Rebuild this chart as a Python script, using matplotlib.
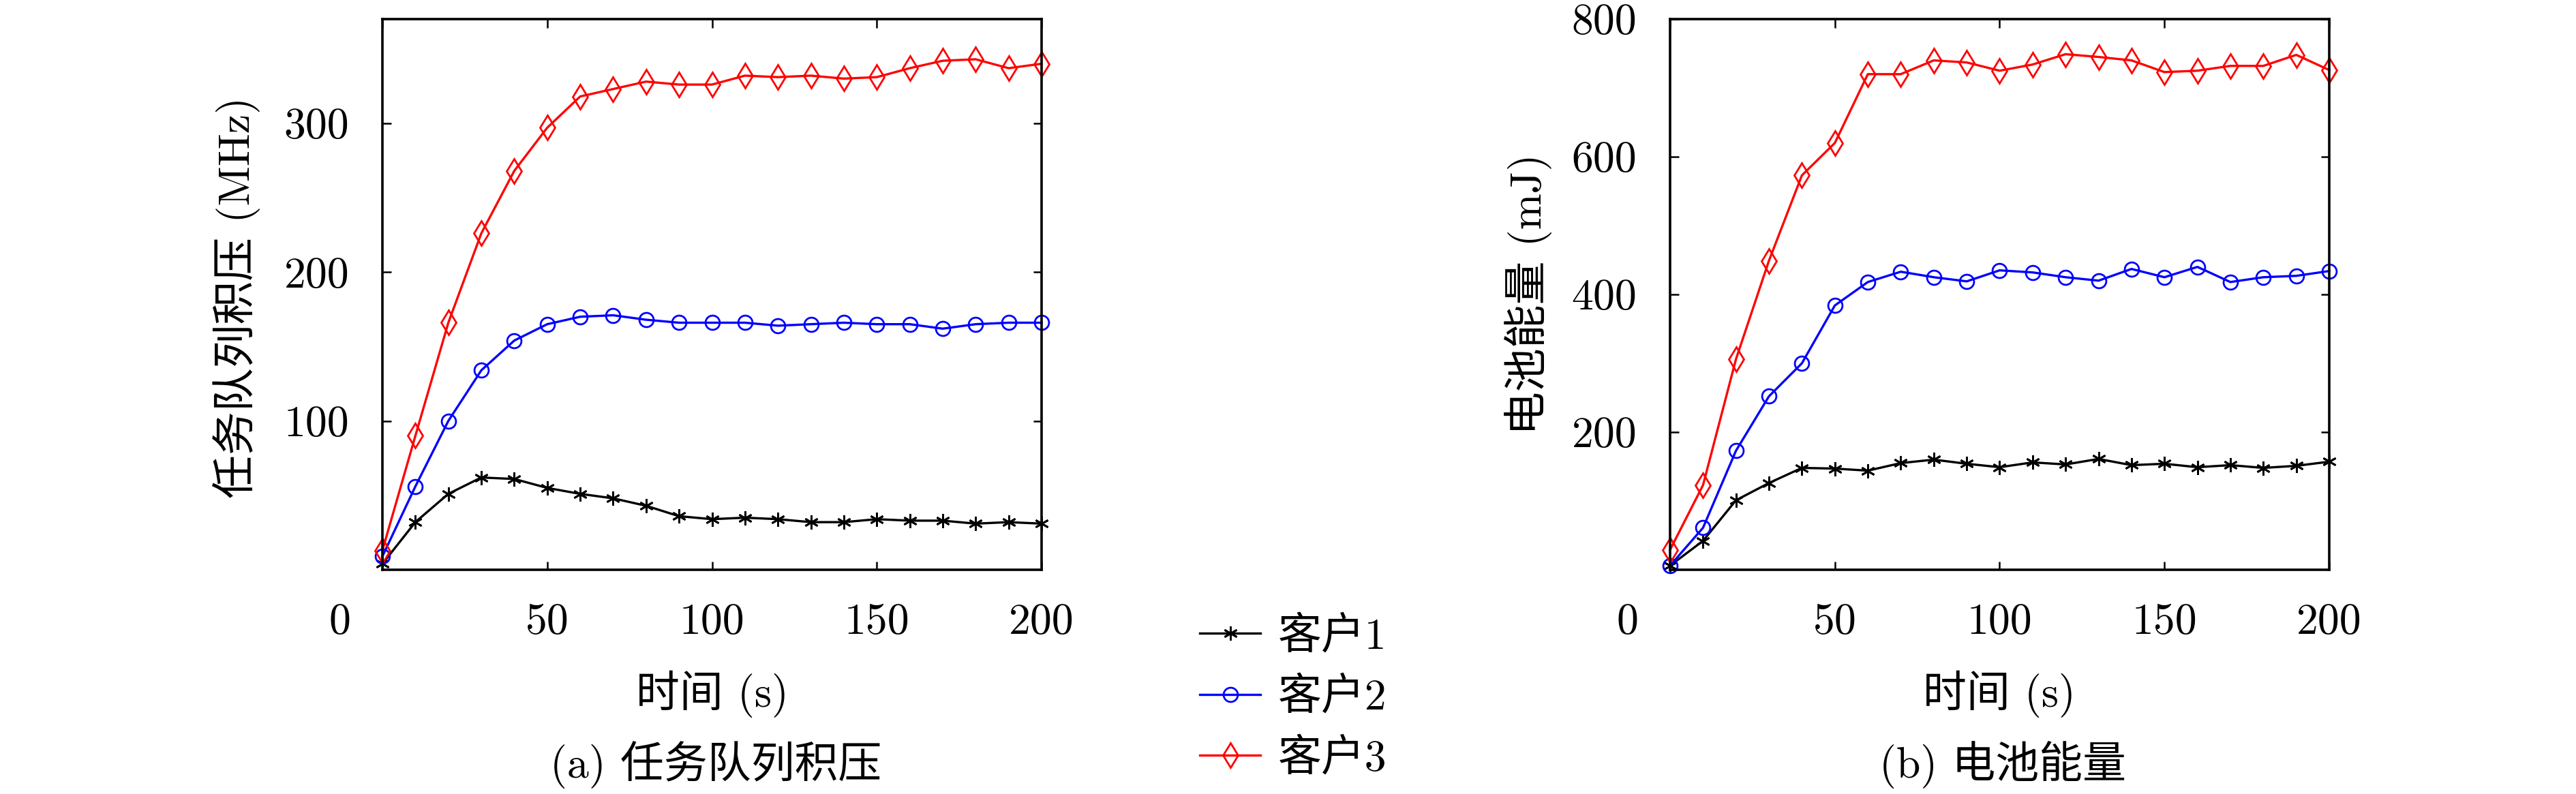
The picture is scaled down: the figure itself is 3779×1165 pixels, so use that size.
import matplotlib
matplotlib.use('Agg')
import matplotlib.pyplot as plt
from matplotlib.transforms import ScaledTranslation

plt.rcParams['font.family'] = ['cmr10', 'Noto Sans CJK SC']
plt.rcParams['axes.unicode_minus'] = False

time_s = [0, 10, 20, 30, 40, 50, 60, 70, 80, 90, 100,
          110, 120, 130, 140, 150, 160, 170, 180, 190, 200]

# (a) queue backlog, MHz
queue_c1 = [4, 32, 51, 62, 61, 55, 51, 48, 43, 36, 34,
            35, 34, 32, 32, 34, 33, 33, 31, 32, 31]
queue_c2 = [9, 56, 100, 134, 154, 165, 170, 171, 168, 166, 166,
            166, 164, 165, 166, 165, 165, 162, 165, 166, 166]
queue_c3 = [13, 90, 166, 226, 268, 297, 318, 323, 328, 326, 326,
            332, 331, 332, 330, 331, 337, 342, 343, 337, 340]

# (b) battery energy, mJ
energy_c1 = [6, 42, 101, 126, 148, 147, 144, 155, 160, 154, 149,
             156, 153, 161, 152, 154, 149, 152, 148, 151, 157]
energy_c2 = [6, 61, 173, 252, 300, 384, 418, 433, 425, 419, 435,
             432, 425, 420, 437, 425, 440, 418, 425, 427, 434]
energy_c3 = [29, 123, 306, 449, 573, 620, 720, 720, 740, 737, 725,
             734, 749, 745, 740, 723, 725, 732, 732, 748, 726]

labels = ['客户1', '客户2', '客户3']
colors = ['black', 'blue', 'red']
markers = [(6, 2, 0), 'o', 'd']
msizes = [15, 15, 18]

FS = 46
W, H = 3780, 1165
fig = plt.figure(figsize=(W / 100, H / 100), dpi=100)

def make_axes(left_px, series, ylim, yticks, ylabel):
    ax = fig.add_axes([left_px / W, (H - 836) / H, 967 / W, 808 / H])
    handles = []
    for ys, c, m, ms, lab in zip(series, colors, markers, msizes, labels):
        h, = ax.plot(time_s, ys, color=c, lw=2.4, marker=m, ms=ms,
                     mfc='none', mec=c, mew=2.0, label=lab, clip_on=False)
        handles.append(h)
    ax.set_xlim(0, 200)
    ax.set_ylim(*ylim)
    ax.set_xticks([0, 50, 100, 150, 200])
    ax.set_xticklabels(['0', '50', '100', '150', '200'])
    ax.set_yticks(yticks)
    ax.set_yticklabels([str(v) for v in yticks])
    ax.tick_params(direction='in', top=True, right=True, length=9, width=1.8,
                   labelsize=FS, pad=35)
    for sp in ax.spines.values():
        sp.set_linewidth(2.6)
    ax.set_ylabel(ylabel, fontsize=FS)
    # the 0 label sits left of the axis corner in the original
    lab0 = ax.get_xticklabels()[0]
    lab0.set_transform(lab0.get_transform() + ScaledTranslation(-0.63, 0, fig.dpi_scale_trans))
    return ax, handles

ax1, handles = make_axes(561, [queue_c1, queue_c2, queue_c3], (0, 370),
                         [100, 200, 300], '任务队列积压 (MHz)')
ax1.yaxis.set_label_coords(-0.185, 0.495)
ax2, _ = make_axes(2450, [energy_c1, energy_c2, energy_c3], (0, 800),
                   [200, 400, 600, 800], '电池能量 (mJ)')
ax2.yaxis.set_label_coords(-0.179, 0.5)

fig.text(1045 / W, (H - 1018) / H, '时间 (s)', fontsize=FS, ha='center', va='center')
fig.text(2933 / W, (H - 1018) / H, '时间 (s)', fontsize=FS, ha='center', va='center')
fig.text(1050 / W, (H - 1122) / H, '(a) 任务队列积压', fontsize=FS, ha='center', va='center')
fig.text(2938 / W, (H - 1122) / H, '(b) 电池能量', fontsize=FS, ha='center', va='center')

fig.legend(handles=handles, loc='center left', bbox_to_anchor=(1760 / W, (H - 1024) / H),
           frameon=False, fontsize=FS, handlelength=1.4, handletextpad=0.4,
           labelspacing=0.46, borderpad=0, borderaxespad=0)

fig.savefig('out.png', dpi=100, facecolor='white')
